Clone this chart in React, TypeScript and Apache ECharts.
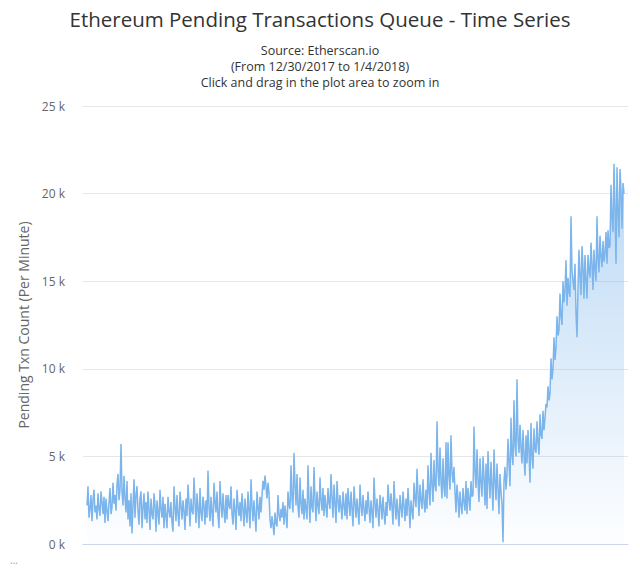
import React, { useEffect, useRef } from "react";
import * as echarts from "echarts";

const titleText = "Ethereum Pending Transactions Queue - Time Series";
const subtitleLines = [
  "Source: Etherscan.io",
  "(From 12/30/2017 to 1/4/2018)",
  "Click and drag in the plot area to zoom in",
];
const yAxisName = "Pending Txn Count (Per Minute)";
const yTicks = [0, 5000, 10000, 15000, 20000, 25000];

// pending transactions, thousands (about one point per pixel)
const pendingK: number[] = [
  2.2, 3.3, 1.5, 2.0, 2.8, 1.3, 2.5, 3.1, 1.8, 2.2, 1.4, 2.9, 2.0, 1.6, 3.0, 2.4, 1.7, 2.7, 1.2, 2.6,
  1.9, 1.3, 2.4, 3.2, 1.7, 2.1, 3.5, 2.3, 2.8, 1.9, 3.4, 4.0, 2.5, 3.1, 5.7, 3.0, 2.2, 3.9, 2.6, 1.8,
  3.6, 1.4, 2.5, 1.0, 2.9, 0.6, 2.2, 3.7, 1.5, 2.8, 3.3, 1.9, 1.1, 2.6, 3.0, 0.9, 2.1, 2.9, 1.4, 2.4,
  1.2, 3.0, 2.0, 0.8, 2.6, 1.7, 1.4, 2.9, 2.2, 0.7, 2.5, 1.8, 1.1, 3.1, 2.0, 1.5, 2.7, 0.9, 2.3, 1.6,
  0.9, 2.7, 1.9, 1.5, 2.4, 1.2, 0.7, 3.3, 2.1, 1.3, 2.8, 1.7, 1.0, 3.0, 2.2, 1.4, 2.5, 1.9, 0.8, 2.6,
  1.6, 3.4, 2.3, 1.0, 2.6, 1.9, 1.7, 3.8, 2.4, 1.2, 2.9, 2.0, 0.9, 3.2, 1.8, 1.3, 2.7, 2.2, 1.1, 2.5,
  1.5, 4.2, 2.1, 1.3, 2.7, 1.8, 1.0, 3.5, 2.4, 1.8, 3.0, 1.6, 0.9, 3.6, 2.3, 1.5, 2.9, 1.9, 1.2, 2.8,
  1.4, 2.8, 2.2, 2.0, 3.3, 1.7, 1.1, 2.6, 1.9, 0.8, 3.1, 2.2, 1.6, 2.4, 1.3, 2.9, 2.0, 1.0, 2.6, 1.8,
  1.2, 3.0, 1.9, 0.9, 3.7, 2.2, 1.3, 2.5, 1.6, 0.7, 3.0, 2.1, 1.4, 2.7, 1.8, 2.8, 3.6, 3.1, 3.9, 3.3,
  2.6, 3.5, 2.9, 1.4, 0.9, 1.6, 1.1, 0.5, 1.8, 1.2, 1.0, 2.8, 1.7, 1.3, 2.0, 1.5, 2.4, 1.1, 2.2, 1.6,
  0.9, 3.0, 2.2, 2.0, 4.5, 2.6, 1.8, 5.2, 3.4, 2.2, 4.0, 2.1, 1.5, 3.8, 2.3, 1.7, 3.1, 1.4, 2.6, 2.0,
  1.4, 4.5, 2.4, 1.2, 3.3, 2.1, 1.8, 4.4, 2.6, 1.3, 3.0, 2.2, 1.7, 3.8, 2.5, 1.9, 3.2, 1.6, 2.8, 2.1,
  1.5, 3.2, 2.4, 2.0, 4.0, 2.7, 1.5, 3.4, 2.3, 1.2, 3.6, 2.5, 1.8, 2.8, 2.1, 1.4, 3.0, 2.2, 1.6, 2.9,
  1.4, 3.2, 2.3, 1.6, 3.0, 2.0, 1.0, 3.3, 2.4, 1.5, 2.6, 1.9, 1.1, 3.4, 2.2, 1.6, 2.8, 2.0, 1.3, 2.5,
  1.7, 3.0, 2.1, 1.2, 2.5, 1.8, 0.9, 3.8, 2.4, 1.5, 2.6, 1.9, 1.0, 2.8, 2.2, 1.4, 2.7, 1.8, 1.1, 2.4,
  1.6, 3.4, 2.5, 1.9, 2.9, 2.1, 1.1, 3.6, 2.3, 1.4, 2.6, 1.8, 1.0, 2.8, 2.1, 1.5, 3.0, 2.2, 1.3, 2.6,
  1.6, 3.2, 2.2, 0.9, 2.5, 1.9, 1.4, 3.5, 2.6, 2.1, 4.3, 2.8, 1.6, 3.4, 2.5, 2.0, 3.7, 2.4, 1.8, 3.1,
  2.0, 4.5, 3.0, 2.2, 5.2, 3.4, 2.4, 4.8, 3.3, 3.0, 7.0, 4.2, 3.3, 5.5, 3.6, 2.6, 4.9, 3.2, 2.7, 5.8,
  2.6, 5.8, 3.9, 3.1, 6.2, 4.1, 3.5, 4.4, 3.0, 1.8, 3.4, 2.6, 1.5, 3.0, 2.2, 1.7, 3.2, 2.4, 1.9, 3.6,
  1.7, 3.2, 2.6, 1.9, 3.6, 2.7, 2.8, 6.7, 4.1, 3.2, 5.4, 3.6, 2.4, 4.9, 3.5, 2.7, 5.0, 3.8, 2.2, 4.6,
  2.0, 5.3, 3.7, 2.6, 4.7, 3.3, 1.9, 5.4, 3.6, 2.5, 4.6, 3.2, 1.7, 4.0, 3.0, 2.3, 0.1, 3.6, 4.4, 3.1,
  4.0, 6.0, 4.6, 3.3, 7.2, 5.1, 4.5, 8.2, 5.6, 5.0, 9.4, 6.0, 5.2, 6.8, 5.5, 4.6, 6.5, 5.0, 3.9, 6.2,
  4.6, 6.5, 5.3, 3.5, 6.9, 5.0, 4.3, 6.6, 5.4, 5.2, 7.0, 5.8, 5.1, 7.4, 6.2, 6.0, 7.6, 6.5, 7.2, 8.0,
  7.8, 9.0, 8.2, 8.6, 10.6, 9.4, 10.0, 11.8, 10.5, 11.2, 13.0, 11.9, 12.2, 14.3, 13.0, 12.5, 15.0, 13.8, 14.5, 16.2,
  13.6, 15.2, 14.4, 14.1, 18.7, 15.6, 15.0, 14.5, 16.0, 13.2, 11.8, 14.6, 16.8, 15.3, 14.2, 17.0, 15.8, 14.0, 16.5, 15.1,
  14.0, 16.5, 15.6, 15.2, 17.2, 16.0, 14.5, 16.8, 15.7, 15.0, 18.7, 16.2, 15.5, 17.6, 16.4, 15.8, 17.3, 16.1, 16.6, 17.8,
  16.0, 17.9, 16.9, 17.0, 20.5, 18.6, 17.8, 21.7, 19.2, 16.0, 21.5, 19.0, 17.5, 21.4, 20.2, 18.0, 20.6, 20.0,
];

const FONT = "'Open Sans', 'DejaVu Sans', sans-serif";

export default function App() {
  const ref = useRef<HTMLDivElement>(null);
  useEffect(() => {
    if (!ref.current) return;
    const chart = echarts.init(ref.current, undefined, { renderer: "svg" });
    const data = pendingK.map((v, i) => [i, v * 1000]);
    chart.setOption({
      animation: false,
      backgroundColor: "#ffffff",
      textStyle: { fontFamily: FONT },
      title: {
        text: titleText,
        left: "center",
        top: 3,
        textStyle: { fontSize: 20.5, fontWeight: "normal", color: "#333333", fontFamily: FONT },
      },
      grid: { left: 83, right: 12, top: 106, bottom: 43, containLabel: false },
      xAxis: {
        type: "value",
        min: -4,
        max: 541,
        axisLabel: { show: false },
        axisTick: { show: false },
        splitLine: { show: false },
        axisLine: { show: true, lineStyle: { color: "#ccd6eb", width: 1 } },
      },
      yAxis: {
        type: "value",
        min: 0,
        max: 25000,
        interval: 5000,
        name: yAxisName,
        nameLocation: "middle",
        nameGap: 51,
        nameTextStyle: { color: "#666666", fontSize: 14, fontFamily: FONT },
        axisLabel: {
          color: "#666666",
          fontSize: 12,
          margin: 18,
          formatter: (v: number) => (yTicks.includes(v) ? `${v / 1000} k` : ""),
        },
        axisLine: { show: false },
        axisTick: { show: false },
        splitLine: { lineStyle: { color: "#e6e6e6", width: 1 } },
      },
      series: [
        {
          type: "line",
          data,
          showSymbol: false,
          symbol: "none",
          lineStyle: { color: "#7cb5ec", width: 1.5 },
          areaStyle: {
            color: new echarts.graphic.LinearGradient(0, 0, 0, 1, [
              { offset: 0, color: "rgba(124,181,236,0.75)" },
              { offset: 1, color: "rgba(124,181,236,0.02)" },
            ]),
          },
        },
      ],
      graphic: [
        ...subtitleLines.map((line, i) => ({
          type: "text",
          x: 320,
          y: 50 + i * 16,
          style: {
            text: line,
            fill: "#333333",
            fontSize: 12.5,
            lineHeight: 14,
            fontFamily: FONT,
            textAlign: "center",
            textVerticalAlign: "middle",
          },
        })),
        {
          type: "text",
          left: 10,
          top: 555,
          style: { text: "...", fill: "#999999", fontSize: 10, fontFamily: FONT },
        },
      ],
    });
    return () => chart.dispose();
  }, []);
  return (
    <div style={{ position: "absolute", left: 0, top: 0, width: 640, height: 587 }}>
      <div ref={ref} style={{ width: 640, height: 587 }} />
    </div>
  );
}
